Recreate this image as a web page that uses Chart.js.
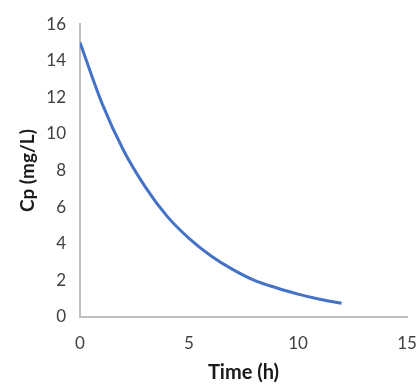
<!DOCTYPE html>
<html>
<head>
<meta charset="utf-8">
<script src="https://cdn.jsdelivr.net/npm/chart.js@4"></script>
<style>
  html, body { margin: 0; padding: 0; background: #fff; }
  #wrap { width: 419px; height: 385px; }
</style>
</head>
<body>
<div id="wrap"><canvas id="myChart"></canvas></div>
<script>
// values
const timeH = [0, 1, 2, 3, 4, 5, 6, 7, 8, 9, 10, 11, 12];
const cpValues = [15, 11.7, 9.1, 7.1, 5.5, 4.3, 3.35, 2.6, 2.0, 1.6, 1.25, 0.97, 0.75];
const xTitle = 'Time (h)';
const yTitle = 'Cp (mg/L)';

const ctx = document.getElementById('myChart');
const axisColor = '#bfbfbf';
const textColor = '#404040';
const font = 'Lato, "Open Sans", sans-serif';

let chart = new Chart(ctx, {
	type: 'line',
	data: {
		datasets: [{
			label: 'Cp',
			data: timeH.map((t, i) => ({ x: t, y: cpValues[i] })),
			borderColor: '#4472C4',
			backgroundColor: '#4472C4',
			borderWidth: 3,
			pointRadius: 0,
			tension: 0.4,
			cubicInterpolationMode: 'monotone',
		}],
	},
	options: {
		responsive: true,
		maintainAspectRatio: false,
		animation: false,
		layout: { padding: { left: 0, right: 2, top: 20, bottom: 0 } },
		plugins: {
			legend: { display: false },
			tooltip: { enabled: false },
		},
		scales: {
			x: {
				type: 'linear',
				min: 0,
				max: 15,
				afterFit: (s) => { s.height = 68; s.paddingRight = 12; s.paddingLeft = 0; },
				ticks: { stepSize: 5, color: textColor, font: { family: font, size: 17 }, padding: 16 },
				grid: { display: false, drawTicks: false },
				border: { color: axisColor, width: 2 },
				title: { display: true, text: xTitle, color: '#1a1a1a', font: { family: font, size: 20, weight: 'bold' }, padding: { top: 0, bottom: 0 } },
			},
			y: {
				min: 0,
				max: 16,
				afterFit: (s) => { s.width = 80; },
				ticks: { stepSize: 2, color: textColor, font: { family: font, size: 17 }, padding: 14 },
				grid: { display: false, drawTicks: false },
				border: { color: axisColor, width: 2 },
				title: { display: true, text: yTitle, color: '#1a1a1a', font: { family: font, size: 19, weight: 'bold' }, padding: { top: 16, bottom: 0 } },
			},
		},
	},
});
</script>
</body>
</html>
